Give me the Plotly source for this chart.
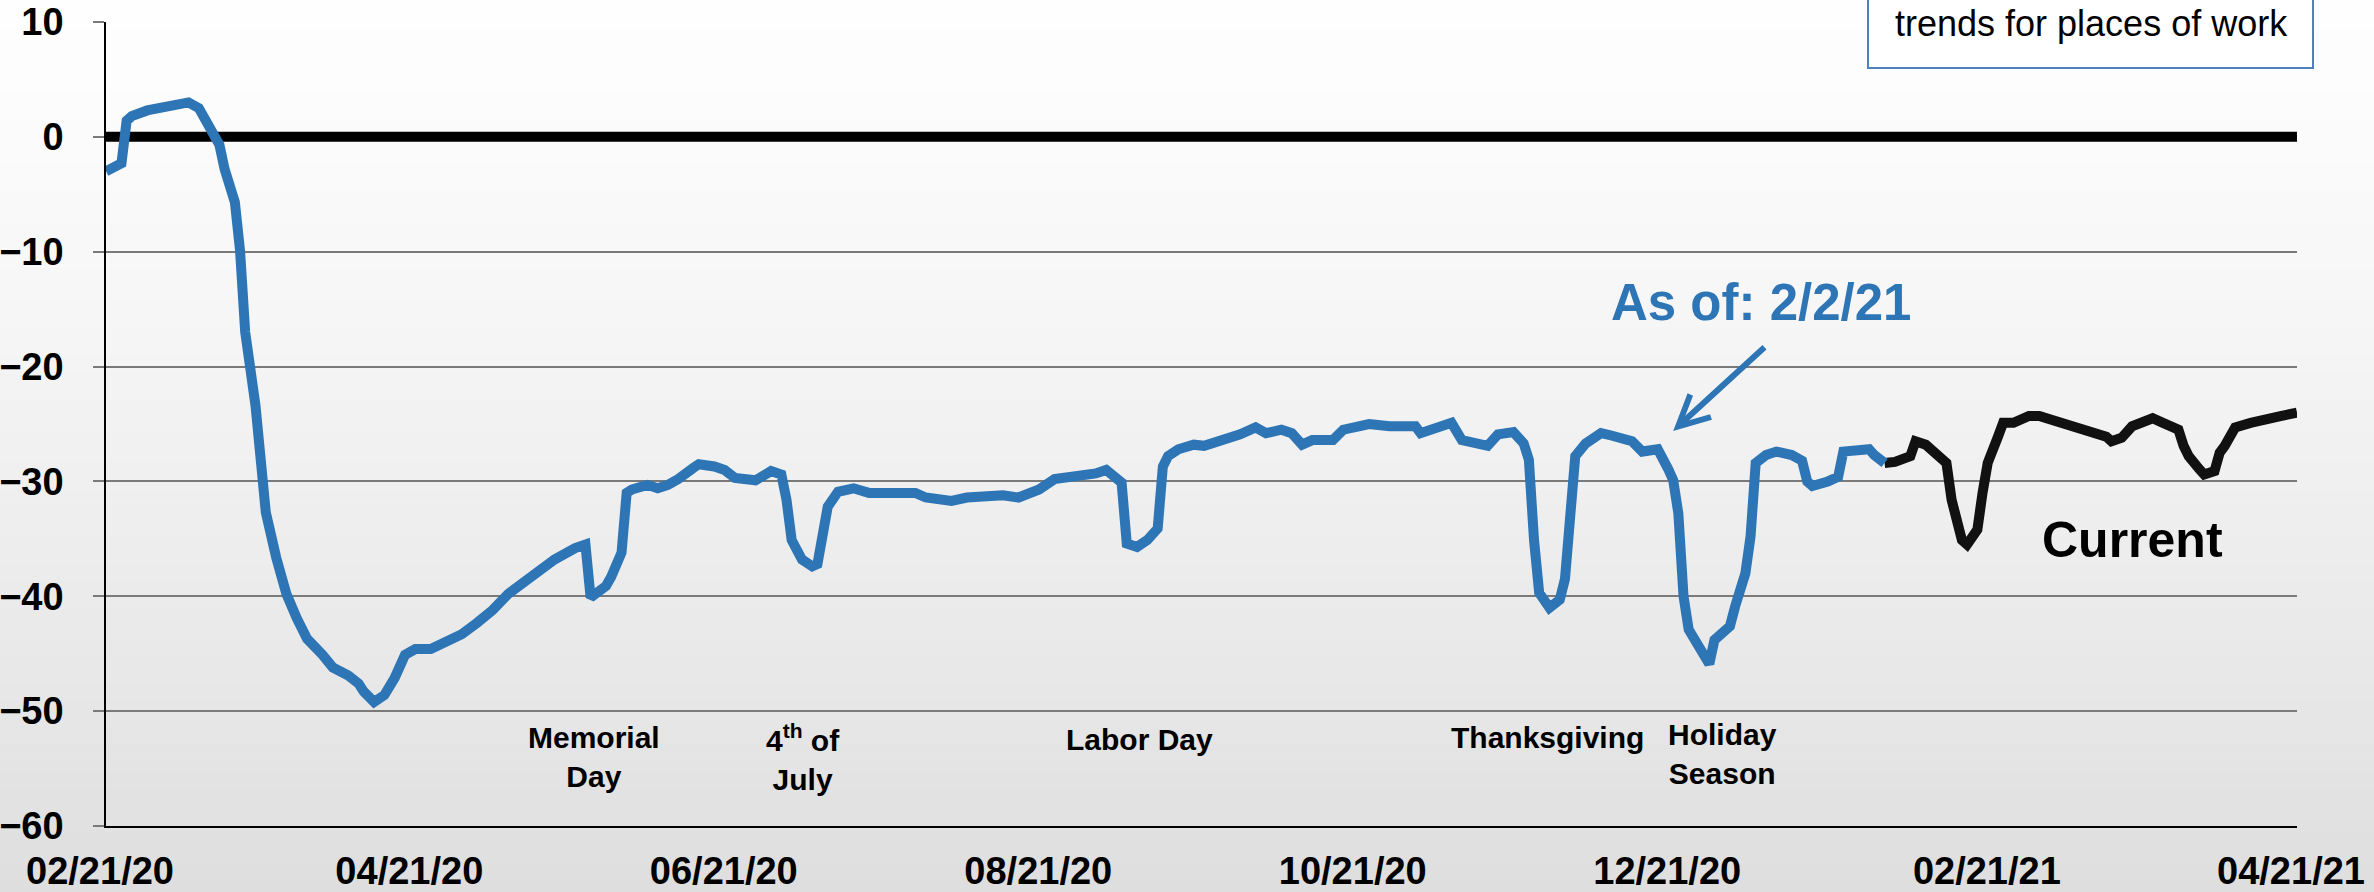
import plotly.graph_objects as go
import pandas as pd

# ---------------- data ----------------
START_DATE = "2020-02-21"
END_DATE = "2021-04-21"

tick_dates = ["2020-02-21", "2020-04-21", "2020-06-21", "2020-08-21",
              "2020-10-21", "2020-12-21", "2021-02-21", "2021-04-21"]
tick_labels = ["02/21/20", "04/21/20", "06/21/20", "08/21/20",
               "10/21/20", "12/21/20", "02/21/21", "04/21/21"]
y_ticks = [-60, -50, -40, -30, -20, -10, 0, 10]

# days since START_DATE, mobility change (%) -- history (blue)
blue_days = [0, 3, 4, 5, 8, 10, 12, 14, 16, 18,
             20, 22, 23, 25, 26, 27, 29, 30, 31, 33,
             35, 37, 39, 42, 44, 47, 49, 50, 52, 54,
             56, 58, 60, 63, 66, 69, 72, 75, 78, 83,
             87, 91, 93, 94, 97, 98, 100, 101, 102, 105,
             107, 109, 111, 114, 115, 118, 120, 122, 126, 129,
             131, 132, 133, 135, 137, 138, 140, 142, 145, 148,
             157, 159, 164, 167, 172, 174, 177, 179, 181, 184,
             186, 189, 192, 194, 197, 198, 200, 202, 204, 205,
             206, 208, 211, 213, 216, 220, 223, 225, 228, 230,
             232, 234, 238, 240, 243, 245, 249, 254, 255, 258,
             260, 261, 263, 265, 268, 270, 273, 275, 276, 277,
             278, 280, 282, 283, 284, 285, 287, 290, 292, 294,
             296, 298, 301, 303, 304, 305, 306, 307, 309, 311,
             312, 315, 316, 318, 319, 320, 322, 324, 327, 329,
             330, 331, 334, 336, 337, 339, 342, 343, 345]
blue_vals = [-3.0, -2.3, 1.4, 1.8, 2.3, 2.5, 2.6, 2.8, 3.0, 2.5,
             1.1, -0.7, -2.8, -5.7, -9.9, -17.0, -23.4, -28.8, -32.7, -36.6,
             -39.8, -41.9, -43.7, -45.1, -46.2, -46.9, -47.6, -48.3, -49.2, -48.6,
             -47.1, -45.1, -44.6, -44.6, -44.0, -43.3, -42.3, -41.2, -39.8, -38.0,
             -36.8, -35.8, -35.5, -40.1, -39.1, -38.3, -36.2, -31.0, -30.7, -30.3,
             -30.6, -30.3, -29.8, -28.8, -28.5, -28.7, -29.0, -29.7, -29.9, -29.1,
             -29.4, -31.6, -35.1, -36.8, -37.4, -37.2, -32.2, -30.9, -30.6, -31.0,
             -31.0, -31.4, -31.7, -31.4, -31.2, -31.2, -31.4, -31.0, -30.7, -29.8,
             -29.7, -29.5, -29.3, -29.0, -30.1, -35.4, -35.7, -35.1, -34.1, -28.7,
             -27.8, -27.2, -26.8, -26.9, -26.5, -25.9, -25.3, -25.8, -25.5, -25.8,
             -26.8, -26.4, -26.4, -25.5, -25.2, -25.0, -25.2, -25.2, -25.8, -25.4,
             -25.2, -24.9, -26.4, -26.6, -26.9, -25.9, -25.7, -26.7, -28.1, -35.1,
             -39.7, -41.0, -40.3, -38.5, -32.8, -27.8, -26.7, -25.8, -26.0, -26.2,
             -26.5, -27.4, -27.2, -28.9, -29.9, -32.8, -40.0, -42.9, -44.6, -45.9,
             -43.8, -42.6, -40.9, -38.0, -34.8, -28.4, -27.7, -27.4, -27.7, -28.2,
             -30.0, -30.4, -30.0, -29.6, -27.4, -27.4, -27.2, -27.7, -28.4]

# current (black)
black_days = [345, 347, 350, 351, 353, 355, 357, 358, 359, 360,
              361, 363, 364, 365, 367, 368, 370, 373, 375, 377,
              380, 382, 385, 388, 389, 391, 393, 395, 397, 399,
              402, 403, 404, 406, 407, 409, 410, 411, 413, 416,
              420, 422, 425]
black_vals = [-28.4, -28.3, -27.8, -26.5, -26.8, -27.7, -28.4, -31.6, -33.0, -35.1,
              -35.5, -34.2, -31.0, -28.4, -26.1, -24.9, -24.9, -24.3, -24.3, -24.6,
              -25.1, -25.2, -25.8, -26.1, -26.5, -26.2, -25.2, -24.8, -24.5, -24.9,
              -25.5, -26.9, -27.8, -28.9, -29.4, -29.1, -27.5, -26.9, -25.3, -24.9,
              -24.6, -24.3, -24.0]

baseline_vals = [0, 0]

holiday_texts = ["Memorial<br>Day", "4<sup>th</sup> of<br>July", "Labor Day",
                 "Thanksgiving", "Holiday<br>Season"]

# ---------------- helpers ----------------
base = pd.Timestamp(START_DATE)


def to_date(d):
    return base + pd.Timedelta(days=d)


W, H = 2374, 892
ML, MR, MT, MB = 106, 77, 22, 66
PW, PH = W - ML - MR, H - MT - MB


def px_x(px):
    return (px - ML) / PW


def px_y(py):
    return (H - MB - py) / PH


FONT = "Liberation Sans, Arial, Helvetica, sans-serif"
BLUE = "#2E75B6"

fig = go.Figure()

# background gradient (whole image)
shapes = []
N = 60
for i in range(N):
    t = (i + 0.5) / N
    c = int(round(254 - 32 * (t ** 1.3)))
    shapes.append(dict(type="rect", xref="paper", yref="paper",
                       x0=-0.1, x1=1.1,
                       y0=px_y(i * H / N), y1=px_y((i + 1) * H / N + 0.5),
                       fillcolor=f"rgb({c},{c},{c})", line=dict(width=0),
                       layer="below"))

# top-right text box
shapes.append(dict(type="rect", xref="paper", yref="paper",
                   x0=px_x(1868), x1=px_x(2313), y0=px_y(68), y1=px_y(-20),
                   fillcolor="white", line=dict(color="#4F81BD", width=2),
                   layer="above"))

# zero reference line
fig.add_trace(go.Scatter(x=[START_DATE, END_DATE], y=baseline_vals,
                         mode="lines", line=dict(color="black", width=10),
                         hoverinfo="skip", showlegend=False))

fig.add_trace(go.Scatter(x=[to_date(d) for d in black_days], y=black_vals,
                         mode="lines", line=dict(color="#111111", width=10),
                         name="Current", showlegend=False))
fig.add_trace(go.Scatter(x=[to_date(d) for d in blue_days], y=blue_vals,
                         mode="lines", line=dict(color=BLUE, width=10),
                         name="History", showlegend=False))

annotations = []
# holiday labels
hol_pos = [(94.7, -54.0), (135.2, -54.0), (200.4, -52.5), (279.7, -52.3), (313.5, -53.7)]
for txt, (d, v) in zip(holiday_texts, hol_pos):
    annotations.append(dict(x=to_date(d), y=v, xref="x", yref="y", text=txt,
                            showarrow=False, align="center",
                            xanchor="center", yanchor="middle",
                            font=dict(family=FONT, size=30, color="black", weight="bold")))

annotations.append(dict(x=to_date(321), y=-14.4, xref="x", yref="y",
                        text="As of: 2/2/21", showarrow=False,
                        xanchor="center", yanchor="middle",
                        font=dict(family=FONT, size=51, color=BLUE, weight="bold")))
annotations.append(dict(x=to_date(304), y=-25.6, xref="x", yref="y",
                        ax=to_date(322), ay=-18.2, axref="x", ayref="y",
                        text="", showarrow=True, arrowhead=5, arrowsize=1.0,
                        arrowwidth=6, arrowcolor=BLUE))
annotations.append(dict(x=to_date(393), y=-35.1, xref="x", yref="y",
                        text="Current", showarrow=False,
                        xanchor="center", yanchor="middle",
                        font=dict(family=FONT, size=50, color="black", weight="bold")))
annotations.append(dict(x=px_x(2091), y=px_y(23), xref="paper", yref="paper",
                        text="trends for places of work", showarrow=False,
                        xanchor="center", yanchor="middle",
                        font=dict(family=FONT, size=36, color="black")))

fig.update_layout(
    width=W, height=H,
    margin=dict(l=ML, r=MR, t=MT, b=MB, pad=0, autoexpand=False),
    paper_bgcolor="white", plot_bgcolor="rgba(0,0,0,0)",
    shapes=shapes, annotations=annotations, showlegend=False,
    xaxis=dict(type="date", range=[START_DATE, END_DATE],
               tickvals=tick_dates, ticktext=tick_labels, automargin=False,
               showgrid=False, zeroline=False, ticks="",
               showline=True, linecolor="black", linewidth=1.5,
               ticklabelstandoff=11, ticklabelshift=-6,
               tickfont=dict(family=FONT, size=38, color="black", weight="bold")),
    yaxis=dict(range=[-60, 10], tickvals=y_ticks, automargin=False,
               showgrid=True, gridcolor="#7a7a7a", gridwidth=1.5,
               zeroline=False, ticks="outside", ticklen=11, tickcolor="#7a7a7a",
               tickwidth=1.5, showline=True, linecolor="black", linewidth=1.5,
               ticklabelstandoff=22,
               tickfont=dict(family=FONT, size=38, color="black", weight="bold")),
)

fig.write_html("out.html",
               config={"displayModeBar": False},
               post_script="document.body.style.margin='0px';"
                           "document.body.style.overflow='hidden';")
